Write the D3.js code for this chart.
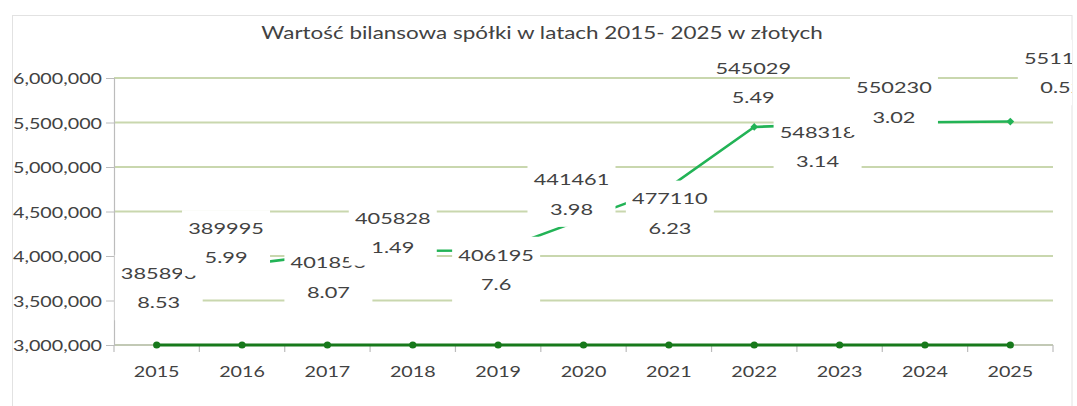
<!DOCTYPE html>
<html>
<head>
<meta charset="utf-8">
<script src="https://cdn.jsdelivr.net/npm/d3@7/dist/d3.min.js"></script>
<style>
  html, body { margin: 0; padding: 0; background: #ffffff; }
  svg { display: block; }
  text { font-family: Lato, "Open Sans", sans-serif; fill: #424242; }
</style>
</head>
<body>
<svg id="chart" width="1077" height="406"></svg>
<script>
// Years on the category axis
const years = ['2015', '2016', '2017', '2018', '2019', '2020', '2021', '2022', '2023', '2024', '2025'];

// Book value of the company per year (PLN)
const bookValue = [3858938.53, 3899955.99, 4018538.07, 4058281.49, 4061957.6, 4414613.98,
                   4771106.23, 5450295.49, 5483183.14, 5502303.02, 5511150.52];

// Second series, resting on the axis minimum
const baseSeries = [3000000, 3000000, 3000000, 3000000, 3000000, 3000000,
                    3000000, 3000000, 3000000, 3000000, 3000000];

// Value axis ticks
const yTicks = [3000000, 3500000, 4000000, 4500000, 5000000, 5500000, 6000000];

// Data-label placement: label block centre relative to its point (dx, dy)
const labelOffsets = [[2, 19], [-16, -22], [1, 23], [-20, -18], [-2, 19], [-12, -25],
                      [1, 26], [-1, -44], [-22, 22.5], [-31, -20], [51.5, -49]];
// Whether a label carries a white background box
const labelFilled = [true, true, true, true, true, true, true, false, true, true, true];

const title = 'Wartość bilansowa spółki w latach 2015- 2025 w złotych';

// ---- layout ----
const plot = { left: 114, right: 1053, top: 78, bottom: 345 };
const chartArea = { x: 12.5, y: 15.5, w: 1059.5, h: 400 };
const S = 1.36; // horizontal stretch applied to all text

const svg = d3.select('#chart');

const x = d3.scaleBand().domain(years).range([plot.left, plot.right]).padding(0);
const y = d3.scaleLinear().domain([3000000, 6000000]).range([plot.bottom, plot.top]);
const cx = d => x(d) + x.bandwidth() / 2;

function stretchedText(parent, tx, ty, str, size, anchor) {
  return parent.append('text')
    .attr('transform', `translate(${tx},${ty}) scale(${S},1)`)
    .attr('text-anchor', anchor)
    .attr('dy', '0.36em')
    .style('font-size', size + 'px')
    .text(str);
}

// chart area
svg.append('rect')
  .attr('x', chartArea.x).attr('y', chartArea.y)
  .attr('width', chartArea.w).attr('height', chartArea.h)
  .attr('fill', '#ffffff').attr('stroke', '#e2e2e2').attr('stroke-width', 1);

// labels are clipped at the chart area's right edge
svg.append('defs').append('clipPath').attr('id', 'area-clip')
  .append('rect')
  .attr('x', 0).attr('y', 0)
  .attr('width', chartArea.x + chartArea.w).attr('height', 406);

// title
stretchedText(svg, 542, 33.5, title, 16.5, 'middle');

// horizontal gridlines
svg.append('g').selectAll('line')
  .data(yTicks)
  .join('line')
  .attr('x1', plot.left).attr('x2', plot.right)
  .attr('y1', d => y(d)).attr('y2', d => y(d))
  .attr('stroke', '#c9d7ae').attr('stroke-width', 2.2);

// value axis
const yAxis = d3.axisLeft(y).tickValues(yTicks).tickSize(8).tickFormat('');
const gy = svg.append('g').attr('transform', `translate(${plot.left},0)`).call(yAxis);
gy.select('.domain').attr('stroke', '#bcbcbc').attr('stroke-width', 1.2);
gy.selectAll('.tick line').attr('stroke', '#bcbcbc');
const fmt = d3.format(',');
yTicks.forEach(t => stretchedText(svg, plot.left - 12, y(t) + 1, fmt(t), 14.5, 'end'));

// category axis
svg.append('line')
  .attr('x1', plot.left).attr('x2', plot.right)
  .attr('y1', plot.bottom).attr('y2', plot.bottom)
  .attr('stroke', '#bcbcbc').attr('stroke-width', 1.2);
const bounds = years.map(d => x(d)).concat([plot.right]);
svg.append('g').selectAll('line')
  .data(bounds)
  .join('line')
  .attr('x1', d => d).attr('x2', d => d)
  .attr('y1', plot.bottom).attr('y2', plot.bottom + 7)
  .attr('stroke', '#bcbcbc').attr('stroke-width', 1.2);
years.forEach(yr => stretchedText(svg, cx(yr), 372, yr, 14.5, 'middle'));

// series lines
const line = d3.line().x(d => cx(d.year)).y(d => y(d.value));
const baseData = years.map((yr, i) => ({ year: yr, value: baseSeries[i] }));
const mainData = years.map((yr, i) => ({ year: yr, value: bookValue[i] }));

svg.append('path').datum(baseData)
  .attr('d', line).attr('fill', 'none')
  .attr('stroke', '#17791b').attr('stroke-width', 3);
svg.append('g').selectAll('circle')
  .data(baseData)
  .join('circle')
  .attr('cx', d => cx(d.year)).attr('cy', d => y(d.value)).attr('r', 3.6)
  .attr('fill', '#17791b');

svg.append('path').datum(mainData)
  .attr('d', line).attr('fill', 'none')
  .attr('stroke', '#22b356').attr('stroke-width', 2.6);
svg.append('g').selectAll('path')
  .data(mainData)
  .join('path')
  .attr('d', d3.symbol(d3.symbolSquare, 30))
  .attr('transform', d => `translate(${cx(d.year)},${y(d.value)}) rotate(45)`)
  .attr('fill', '#22b356');

// data labels, wrapped onto two lines and drawn in series order
const labelLayer = svg.append('g').attr('clip-path', 'url(#area-clip)');
const lineGap = 29.5, boxW = 88, padY = 18;
mainData.forEach((d, i) => {
  const s = String(d.value);
  const parts = [s.slice(0, 6), s.slice(6)];
  const lx = cx(d.year) + labelOffsets[i][0];
  const ly = y(d.value) + labelOffsets[i][1];
  const g = labelLayer.append('g');
  if (labelFilled[i]) {
    g.append('rect')
      .attr('x', lx - boxW / 2)
      .attr('y', ly - lineGap / 2 - padY)
      .attr('width', boxW)
      .attr('height', lineGap + 2 * padY)
      .attr('fill', '#ffffff');
  }
  stretchedText(g, lx, ly - lineGap / 2, parts[0], 16, 'middle');
  stretchedText(g, lx, ly + lineGap / 2, parts[1], 16, 'middle');
});
</script>
</body>
</html>
